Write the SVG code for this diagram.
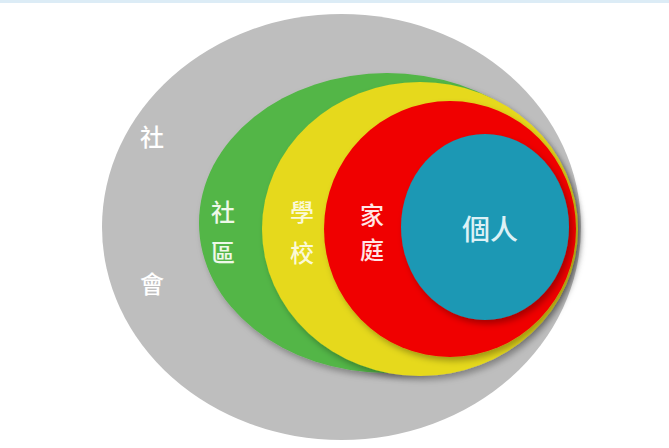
<svg xmlns="http://www.w3.org/2000/svg" width="669" height="448" viewBox="0 0 669 448">
<defs>
<filter id="sh" x="-10%" y="-10%" width="125%" height="125%">
<feDropShadow dx="3" dy="4" stdDeviation="3" flood-color="#000" flood-opacity="0.3"/>
</filter>
</defs>
<style>
text{font-family:"Noto Sans CJK TC","Noto Sans CJK SC",sans-serif;font-weight:500;text-anchor:middle;dominant-baseline:central}
.t{font-size:24px}
</style>
<rect x="0" y="0" width="669" height="448" fill="#ffffff"/>
<rect x="0" y="0" width="669" height="3" fill="#dcecf6"/>
<g id="society">
<ellipse cx="341.5" cy="227" rx="239.5" ry="213" fill="#bebebe"/>
<text class="t" x="152" y="135" fill="#ffffff">社</text>
<text class="t" x="152" y="282" fill="#ffffff">會</text>
</g>
<g id="community">
<ellipse cx="387" cy="223" rx="188" ry="150" fill="#52b646" filter="url(#sh)"/>
<text class="t" x="223" y="210" fill="#eef8e8">社</text>
<text class="t" x="223" y="251" fill="#eef8e8">區</text>
</g>
<g id="school">
<ellipse cx="420" cy="229" rx="158" ry="147" fill="#e6d91c" filter="url(#sh)"/>
<text class="t" x="302" y="210" fill="#fbf9d8">學</text>
<text class="t" x="302" y="251" fill="#fbf9d8">校</text>
</g>
<g id="family">
<ellipse cx="450" cy="229" rx="126" ry="128" fill="#f00000" filter="url(#sh)"/>
<text class="t" x="372" y="213" fill="#ffe6e6">家</text>
<text class="t" x="372" y="248" fill="#ffe6e6">庭</text>
</g>
<g id="individual">
<ellipse cx="485" cy="227" rx="84" ry="93" fill="#1a98b4" filter="url(#sh)"/>
<text x="490" y="228" font-size="28" fill="#dcf1f6">個人</text>
</g>
<g id="connectors"/>
</svg>
